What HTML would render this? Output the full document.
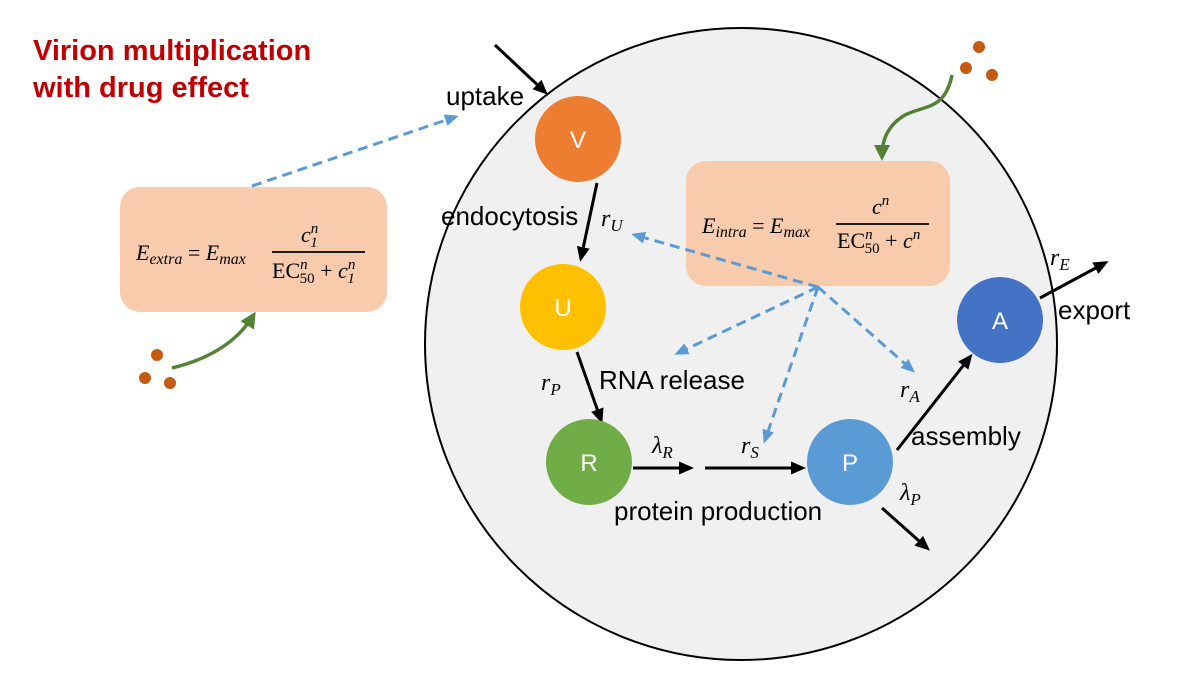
<!DOCTYPE html>
<html><head><meta charset="utf-8"><style>
html,body{margin:0;padding:0;background:#fff;}
svg{display:block;}
.t{font-family:"Liberation Sans",sans-serif;font-size:26px;fill:#000;}
.m{font-family:"Liberation Serif",serif;font-style:italic;fill:#000;}
.n{font-family:"Liberation Sans",sans-serif;font-size:24px;fill:#fff;text-anchor:middle;}
</style></head><body>
<svg width="1200" height="675" viewBox="0 0 1200 675" xmlns="http://www.w3.org/2000/svg">
<defs>
<marker id="aB" markerWidth="14" markerHeight="12" refX="10" refY="6" orient="auto" markerUnits="userSpaceOnUse"><path d="M0,0 L14,6 L0,12 z" fill="#5B9BD5"/></marker>
<marker id="aG" markerWidth="16" markerHeight="16" refX="11" refY="8" orient="auto" markerUnits="userSpaceOnUse"><path d="M0,0 L16,8 L0,16 z" fill="#548235"/></marker>
<marker id="aK" markerWidth="15" markerHeight="13" refX="11" refY="6.5" orient="auto" markerUnits="userSpaceOnUse"><path d="M0,0 L15,6.5 L0,13 z" fill="#000"/></marker>
</defs>
<text x="33" y="60" font-family="Liberation Sans,sans-serif" font-weight="bold" font-size="29" fill="#C00000">Virion multiplication</text>
<text x="33" y="97" font-family="Liberation Sans,sans-serif" font-weight="bold" font-size="29" fill="#C00000">with drug effect</text>
<circle cx="741" cy="344" r="316" fill="#F0F0F0" stroke="#000" stroke-width="2"/>
<rect x="120" y="187" width="267" height="125" rx="20" fill="#F8CBAD"/>
<rect x="686" y="161" width="264" height="125" rx="20" fill="#F8CBAD"/>
<g class="m" font-size="22">
<text x="136" y="260">E<tspan font-size="16" dy="4">extra</tspan><tspan dy="-4" font-style="normal"> = </tspan>E<tspan font-size="16" dy="4">max</tspan></text>
<text x="301" y="242">c<tspan font-size="15" dy="-9">n</tspan><tspan font-size="15" dx="-8" dy="14">1</tspan></text>
<line x1="272" y1="252" x2="365" y2="252" stroke="#000" stroke-width="1.8"/>
<text x="272" y="278"><tspan font-style="normal">EC</tspan><tspan font-size="15" dy="-9">n</tspan><tspan font-size="15" font-style="normal" dx="-8" dy="14">50</tspan><tspan dy="-5" font-style="normal"> + </tspan>c<tspan font-size="15" dy="-9">n</tspan><tspan font-size="15" dx="-8" dy="14">1</tspan></text>
<text x="702" y="233">E<tspan font-size="16" dy="4">intra</tspan><tspan dy="-4" font-style="normal"> = </tspan>E<tspan font-size="16" dy="4">max</tspan></text>
<text x="872" y="214">c<tspan font-size="15" dy="-9">n</tspan></text>
<line x1="836" y1="224" x2="929" y2="224" stroke="#000" stroke-width="1.8"/>
<text x="837" y="248"><tspan font-style="normal">EC</tspan><tspan font-size="15" dy="-9">n</tspan><tspan font-size="15" font-style="normal" dx="-8" dy="14">50</tspan><tspan dy="-5" font-style="normal"> + </tspan>c<tspan font-size="15" dy="-9">n</tspan></text>
</g>
<g stroke="#5B9BD5" stroke-width="3" stroke-dasharray="10,6" fill="none">
<line x1="252" y1="186" x2="455" y2="117" marker-end="url(#aB)"/>
<line x1="818" y1="287" x2="635" y2="235" marker-end="url(#aB)"/>
<line x1="818" y1="287" x2="678" y2="353" marker-end="url(#aB)"/>
<line x1="818" y1="287" x2="765" y2="440" marker-end="url(#aB)"/>
<line x1="818" y1="287" x2="912" y2="370" marker-end="url(#aB)"/>
</g>
<g stroke="#000" stroke-width="3" fill="none">
<line x1="495" y1="45" x2="545" y2="92" marker-end="url(#aK)"/>
<line x1="597" y1="183" x2="581" y2="258" marker-end="url(#aK)"/>
<line x1="577" y1="352" x2="601" y2="420" marker-end="url(#aK)"/>
<line x1="633" y1="468" x2="690" y2="468" marker-end="url(#aK)"/>
<line x1="705" y1="468" x2="802" y2="468" marker-end="url(#aK)"/>
<line x1="897" y1="450" x2="970" y2="357" marker-end="url(#aK)"/>
<line x1="1040" y1="298" x2="1105" y2="263" marker-end="url(#aK)"/>
<line x1="882" y1="508" x2="927" y2="548" marker-end="url(#aK)"/>
</g>
<g stroke="#548235" stroke-width="3.5" fill="none">
<path d="M952,75 C945,110 925,105 905,115 C888,125 882,140 882,156" marker-end="url(#aG)"/>
<path d="M172,368 C205,360 235,345 253,316" marker-end="url(#aG)"/>
</g>
<g fill="#C55A11">
<circle cx="979" cy="47" r="6"/><circle cx="966" cy="68" r="6"/><circle cx="992" cy="75" r="6"/>
<circle cx="157" cy="355" r="6"/><circle cx="145" cy="378" r="6"/><circle cx="170" cy="383" r="6"/>
</g>
<circle cx="578" cy="139" r="43" fill="#ED7D31"/><text class="n" x="578" y="148">V</text>
<circle cx="563" cy="307" r="43" fill="#FFC000"/><text class="n" x="563" y="316">U</text>
<circle cx="589" cy="462" r="43" fill="#70AD47"/><text class="n" x="589" y="471">R</text>
<circle cx="850" cy="462" r="43" fill="#5B9BD5"/><text class="n" x="850" y="471">P</text>
<circle cx="1000" cy="320" r="43" fill="#4472C4"/><text class="n" x="1000" y="329">A</text>
<text class="t" x="446" y="105">uptake</text>
<text class="t" x="441" y="225">endocytosis</text>
<text class="t" x="599" y="389">RNA release</text>
<text class="t" x="614" y="520">protein production</text>
<text class="t" x="911" y="445">assembly</text>
<text class="t" x="1058" y="319">export</text>
<g class="m" font-size="24">
<text x="601" y="226">r<tspan font-size="17" dy="5">U</tspan></text>
<text x="541" y="390">r<tspan font-size="17" dy="5">P</tspan></text>
<text x="652" y="453">λ<tspan font-size="17" dy="5">R</tspan></text>
<text x="741" y="453">r<tspan font-size="17" dy="5">S</tspan></text>
<text x="900" y="397">r<tspan font-size="17" dy="5">A</tspan></text>
<text x="1050" y="265">r<tspan font-size="17" dy="5">E</tspan></text>
<text x="900" y="500">λ<tspan font-size="17" dy="5">P</tspan></text>
</g>
</svg>
</body></html>
